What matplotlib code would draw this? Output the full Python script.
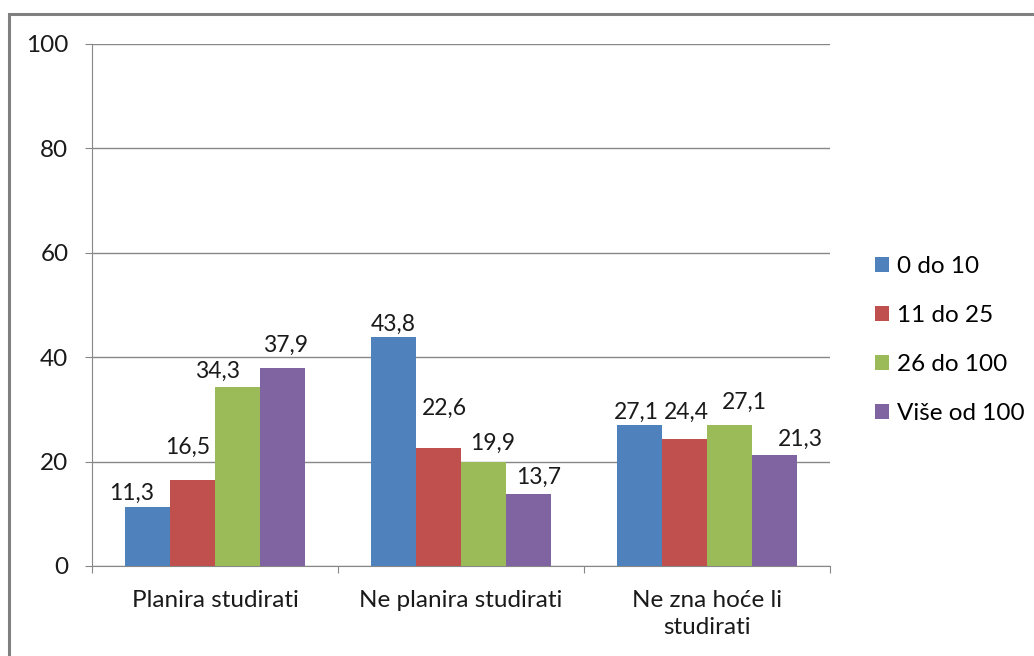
import matplotlib.pyplot as plt
import numpy as np
from matplotlib.patches import Rectangle

# podaci
kategorije = ['Planira studirati', 'Ne planira studirati', 'Ne zna hoće li\nstudirati']
serije = ['0 do 10', '11 do 25', '26 do 100', 'Više od 100']
vrijednosti = [
    [11.3, 43.8, 27.1],
    [16.5, 22.6, 24.4],
    [34.3, 19.9, 27.1],
    [37.9, 13.7, 21.3],
]
boje = ['#4F81BD', '#C0504D', '#9BBB59', '#8064A2']

# ručno pomaknute oznake (px): (dx, dy) po seriji i kategoriji
pomaci = [
    [(-16, 7), (0, 7), (-3, 6)],
    [(-5, 26), (6, 33), (2, 20)],
    [(-20, 9), (9, 12), (15, 16)],
    [(3, 16), (10, 11), (26, 9)],
]

plt.rcParams['font.family'] = ['Lato', 'DejaVu Sans']
fs = 17.5

fig = plt.figure(figsize=(10.34, 6.56), dpi=100)
fig.patches.append(Rectangle((9 / 1034, -0.1), 1.2, 1 - 14 / 656 + 0.1,
                             transform=fig.transFigure, fill=False,
                             edgecolor='#808080', linewidth=2.2))

ax = fig.add_axes([92 / 1034, 1 - 566 / 656, 738 / 1034, 522 / 656])
x = np.arange(len(kategorije))
w = 0.183
for i, (s, vals) in enumerate(zip(serije, vrijednosti)):
    pos = x + (i - 1.5) * w
    ax.bar(pos, vals, width=w, color=boje[i], label=s, zorder=3)
    for p, v, (dx, dy) in zip(pos, vals, pomaci[i]):
        ax.annotate(f'{v:.1f}'.replace('.', ','), (p, v), xytext=(dx, dy),
                    textcoords='offset pixels', ha='center', va='baseline',
                    fontsize=16.5, color='#1a1a1a')

ax.set_xlim(-0.5, 2.5)
ax.set_ylim(0, 100)
ax.set_yticks(range(0, 101, 20))
ax.tick_params(axis='y', labelsize=fs, length=5, color='#878787', pad=12, labelcolor='#1a1a1a')
ax.set_xticks([-0.5, 0.5, 1.5, 2.5])
ax.set_xticklabels([])
ax.set_xticks(x, minor=True)
ax.set_xticklabels(kategorije, minor=True, fontsize=fs, color='#1a1a1a', linespacing=1.4)
ax.tick_params(axis='x', which='major', length=5, color='#878787')
ax.tick_params(axis='x', which='minor', length=0, pad=17)
ax.grid(axis='y', color='#878787', linewidth=1, zorder=0)
for side in ['top', 'right']:
    ax.spines[side].set_visible(False)
for side in ['left', 'bottom']:
    ax.spines[side].set_color('#878787')

ax.legend(loc='center left', bbox_to_anchor=(865 / 1034, 1 - 340 / 656),
          bbox_transform=fig.transFigure, frameon=False, fontsize=fs,
          handlelength=0.6, handleheight=0.6, handletextpad=0.3,
          labelspacing=1.15, borderaxespad=0)

fig.savefig('out.png', dpi=100)
